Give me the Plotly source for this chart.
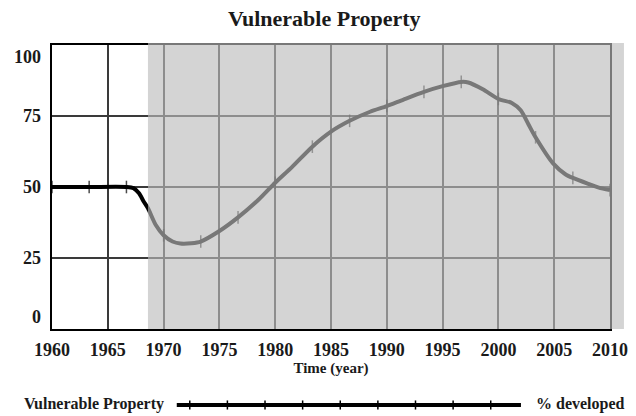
import plotly.graph_objects as go

# ---- data ----
years = [1960, 1963.33, 1966.67, 1967.3, 1967.8, 1968.2, 1968.6, 1969.3, 1970, 1970.8,
         1971.5, 1972.5, 1973.33, 1975, 1976.67, 1978.5, 1980, 1981.5, 1983.33, 1985,
         1986.67, 1988.5, 1990, 1991.5, 1993.33, 1995, 1996.67, 1997.3, 1998.6, 2000,
         2001.2, 2002.0, 2002.7, 2003.33, 2004.9, 2006, 2006.67, 2008, 2009, 2010]
vulnerable = [50, 50, 50, 49.6, 47.8, 45.0, 42.5, 36.6, 33.0, 30.8,
              30.1, 30.2, 30.8, 34.5, 39.3, 45.5, 51.5, 57.0, 64.2, 69.5,
              73.3, 76.5, 78.5, 80.8, 83.5, 85.5, 87.0, 86.8, 84.4, 81.0,
              79.6, 77.0, 72.0, 67.5, 58.3, 54.5, 53.2, 51.2, 49.8, 48.9]
marker_years = [1960, 1963.33, 1966.67, 1970, 1973.33, 1976.67, 1980, 1983.33,
                1986.67, 1990, 1993.33, 1996.67, 2000, 2003.33, 2006.67, 2010]
x_ticks = [1960, 1965, 1970, 1975, 1980, 1985, 1990, 1995, 2000, 2005, 2010]
y_ticks = [0, 25, 50, 75, 100]
shade_start = 1968.6

title = "Vulnerable Property"
x_title = "Time (year)"
legend_name = "Vulnerable Property"
units = "% developed"

FONT = "Liberation Serif"
TXT = "#1a1a1a"

marker_sizes = [9 if y in marker_years else 0 for y in years]

fig = go.Figure()
fig.add_trace(go.Scatter(
    x=years, y=vulnerable, mode="lines+markers",
    line=dict(color="black", width=4, shape="spline", smoothing=0.7),
    marker=dict(symbol="line-ns", size=marker_sizes,
                line=dict(color="black", width=1.5)),
    showlegend=False, hoverinfo="skip",
))

x0, x1 = x_ticks[0], x_ticks[-1]
shade_paper = (shade_start - x0) / (x1 - x0)

shapes = [
    dict(type="rect", xref="paper", yref="paper", x0=shade_paper, x1=1.025,
         y0=0, y1=1.007, fillcolor="rgba(187,187,187,0.64)",
         line=dict(width=0), layer="above"),
]

# legend sample line
lx0, lx1, ly = 0.2236, 0.8404, -0.2676
shapes.append(dict(type="line", xref="paper", yref="paper", x0=lx0, x1=lx1,
                   y0=ly, y1=ly, line=dict(color="black", width=4)))
for i in range(9):
    px = 190 + i * 37.6
    xp = (px - 52.3) / 557.7
    shapes.append(dict(type="line", xref="paper", yref="paper", x0=xp, x1=xp,
                       y0=ly - 0.016, y1=ly + 0.016, line=dict(color="black", width=1.5)))

annotations = [
    dict(text=legend_name, xref="paper", yref="paper", x=0.205, y=ly,
         xanchor="right", yanchor="middle", showarrow=False, yshift=1,
         font=dict(family=FONT, size=16, color=TXT, weight="bold")),
    dict(text=units, xref="paper", yref="paper", x=0.8635, y=ly,
         xanchor="left", yanchor="middle", showarrow=False, yshift=1,
         font=dict(family=FONT, size=16, color=TXT, weight="bold")),
]
# y tick labels (end labels pulled inside the range)
for v in y_ticks:
    shift = -12 if v == y_ticks[-1] else (12 if v == y_ticks[0] else 0)
    annotations.append(dict(text=str(v), xref="paper", yref="y", x=-0.017, y=v,
                            xanchor="right", yanchor="middle", showarrow=False,
                            yshift=shift,
                            font=dict(family=FONT, size=18, color=TXT, weight="bold")))

fig.update_layout(
    width=636, height=416,
    margin=dict(l=52, r=26, t=45, b=87),
    paper_bgcolor="white", plot_bgcolor="white",
    title=dict(text=title, x=0.51, xanchor="center", y=0.955, yanchor="middle",
               font=dict(family=FONT, size=22, color=TXT, weight="bold")),
    shapes=shapes, annotations=annotations,
    font=dict(family=FONT, color=TXT),
)
fig.update_xaxes(
    range=[x0, x1], tickvals=x_ticks, ticktext=[str(t) for t in x_ticks],
    showgrid=True, gridcolor="#3a3a3a", gridwidth=1.5,
    showline=True, linecolor="black", linewidth=2, mirror=True,
    ticks="", ticklabelstandoff=3, zeroline=False, automargin=False,
    tickfont=dict(family=FONT, size=18, color=TXT, weight="bold"),
    title=dict(text=x_title, font=dict(family=FONT, size=15, color=TXT, weight="bold"),
               standoff=4),
)
fig.update_yaxes(
    range=[0, 100], tickvals=y_ticks, showticklabels=False,
    showgrid=True, gridcolor="#3a3a3a", gridwidth=1.5,
    showline=True, linecolor="black", linewidth=2, mirror=True,
    ticks="", zeroline=False, automargin=False,
)

fig.write_html("out.html", config={"displayModeBar": False},
               post_script="document.body.style.margin='0';")
